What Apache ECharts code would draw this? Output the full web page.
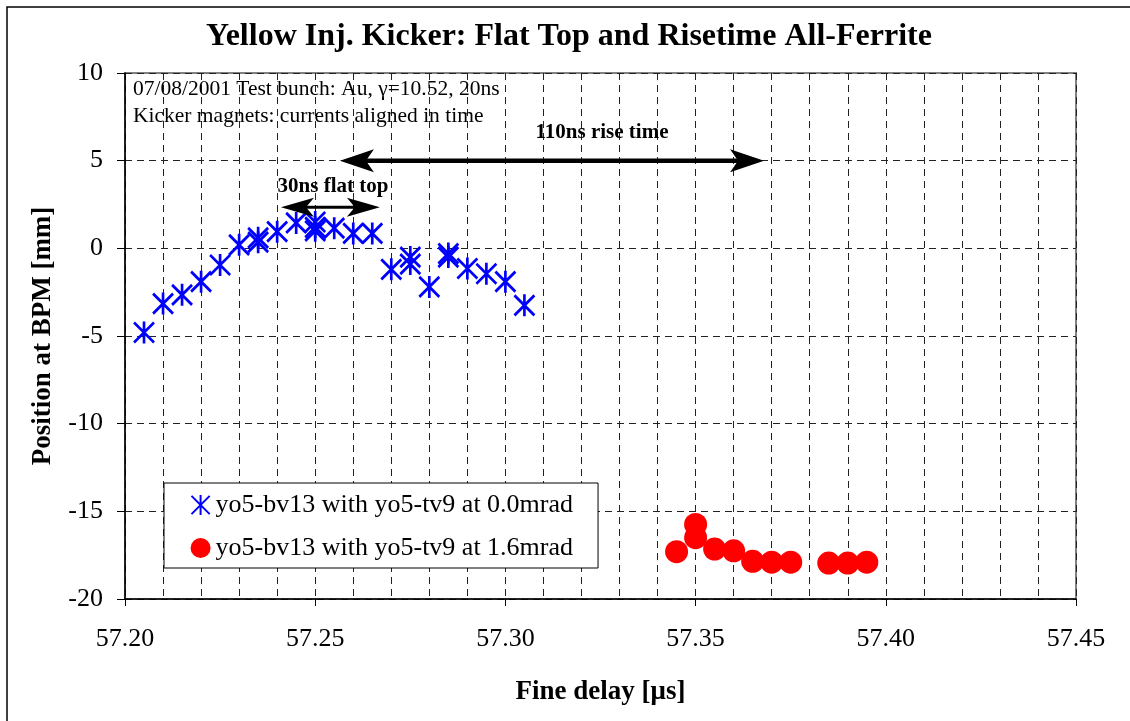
<!DOCTYPE html>
<html>
<head>
<meta charset="utf-8">
<title>Yellow Inj. Kicker: Flat Top and Risetime All-Ferrite</title>
<script src="https://cdn.jsdelivr.net/npm/echarts@6/dist/echarts.min.js"></script>
<style>
  html, body { margin: 0; padding: 0; background: #fff; overflow: hidden; }
  #chart { width: 1130px; height: 721px; }
</style>
</head>
<body>
<div id="chart"></div>
<script>
// Fine delay [μs] and beam position [mm] for each kicker setting
const seriesNames = [
  'yo5-bv13 with yo5-tv9 at 0.0mrad',
  'yo5-bv13 with yo5-tv9 at 1.6mrad'
];
const delay00 = [
  57.205, 57.210, 57.215, 57.220, 57.225, 57.230, 57.235, 57.235, 57.240,
  57.245, 57.250, 57.250, 57.250, 57.255, 57.260, 57.265, 57.270, 57.275,
  57.275, 57.280, 57.285, 57.285, 57.290, 57.295, 57.300, 57.305
];
const pos00 = [
  -4.8, -3.15, -2.65, -1.9, -0.95, 0.2, 0.35, 0.6, 0.95,
  1.45, 1.5, 1.2, 1.0, 1.15, 0.85, 0.85, -1.2, -0.5,
  -0.9, -2.2, -0.3, -0.5, -1.15, -1.45, -1.9, -3.25
];
const delay16 = [
  57.345, 57.350, 57.350, 57.355, 57.360, 57.365, 57.370, 57.375,
  57.385, 57.390, 57.395
];
const pos16 = [
  -17.3, -15.75, -16.5, -17.15, -17.25, -17.85, -17.9, -17.9,
  -17.95, -17.95, -17.9
];

// Double-headed arrows: [start delay, end delay, position]
const riseArrow = [57.2565, 57.368, 5];
const flatArrow = [57.241, 57.267, 2.35];

// Axis ranges
const xRange = [57.20, 57.45];
const xStep = 0.05;
const yRange = [-20, 10];
const yStep = 5;

const SERIF = "'Liberation Serif', 'Times New Roman', 'DejaVu Serif', serif";

const zip = (xs, ys) => xs.map((x, i) => [x, ys[i]]);

// Excel-style asterisk marker: a vertical stroke crossed by an X
const asterisk = 'path://M0,-11L0,11M-10,-10L10,10M-10,10L10,-10';

const chart = echarts.init(document.getElementById('chart'), null, { renderer: 'canvas' });

chart.setOption({
  backgroundColor: '#fff',
  animation: false,
  grid: {
    left: 125, top: 73, width: 951, height: 526,
    show: true, backgroundColor: '#fff', borderColor: '#808080', borderWidth: 2
  },
  legend: {
    data: seriesNames,
    orient: 'vertical',
    left: 164, top: 483,
    padding: [9, 25, 7, 25],
    itemGap: 17,
    itemWidth: 20, itemHeight: 20,
    itemTextGap: 6,
    backgroundColor: '#fff',
    borderColor: '#000', borderWidth: 1, borderRadius: 0,
    textStyle: { fontFamily: SERIF, fontSize: 26, color: '#000' }
  },
  xAxis: {
    type: 'value',
    min: xRange[0], max: xRange[1], interval: xStep,
    name: 'Fine delay [μs]',
    nameLocation: 'middle', nameGap: 80,
    nameTextStyle: { fontFamily: SERIF, fontSize: 27, fontWeight: 'bold', color: '#000' },
    axisLine: { show: true, onZero: false, lineStyle: { color: '#000', width: 1.5 } },
    axisTick: { show: true, inside: false, length: 7, lineStyle: { color: '#000' } },
    axisLabel: {
      margin: 27, fontFamily: SERIF, fontSize: 26, color: '#000',
      formatter: v => v.toFixed(2)
    },
    splitLine: { show: true, lineStyle: { color: '#222', width: 1, type: [7, 5] } },
    minorTick: { show: false, splitNumber: 5 },
    minorSplitLine: { show: true, lineStyle: { color: '#222', width: 1, type: [7, 5] } }
  },
  yAxis: {
    type: 'value',
    min: yRange[0], max: yRange[1], interval: yStep,
    name: 'Position at BPM [mm]',
    nameLocation: 'middle', nameGap: 68, nameRotate: 90,
    nameTextStyle: { fontFamily: SERIF, fontSize: 27, fontWeight: 'bold', color: '#000' },
    axisLine: { show: true, onZero: false, lineStyle: { color: '#000', width: 1.5 } },
    axisTick: { show: true, inside: false, length: 8, lineStyle: { color: '#000' } },
    axisLabel: { margin: 22, fontFamily: SERIF, fontSize: 26, color: '#000' },
    splitLine: { show: true, lineStyle: { color: '#222', width: 1, type: [7, 5] } }
  },
  graphic: [
    {
      // outer frame of the figure (only its left and top edges fall on the page)
      type: 'polyline', silent: true, z: -10,
      shape: { points: [[7, 760], [7, 7], [1200, 7]] },
      style: { fill: 'none', stroke: '#000', lineWidth: 1.5 }
    },
    {
      type: 'text', silent: true,
      style: {
        x: 569, y: 37, text: 'Yellow Inj. Kicker: Flat Top and Risetime All-Ferrite',
        textAlign: 'center', textVerticalAlign: 'middle',
        font: 'bold 32px ' + SERIF, fill: '#000'
      }
    },
    {
      type: 'text', silent: true, z: 10,
      style: {
        x: 133, y: 89, text: '07/08/2001 Test bunch: Au, γ=10.52, 20ns',
        textAlign: 'left', textVerticalAlign: 'middle',
        font: '21.5px ' + SERIF, fill: '#000'
      }
    },
    {
      type: 'text', silent: true, z: 10,
      style: {
        x: 133, y: 116, text: 'Kicker magnets: currents aligned in time',
        textAlign: 'left', textVerticalAlign: 'middle',
        font: '21.5px ' + SERIF, fill: '#000'
      }
    },
    {
      type: 'text', silent: true, z: 10,
      style: {
        x: 602, y: 133, text: '110ns rise time',
        textAlign: 'center', textVerticalAlign: 'middle',
        font: 'bold 21px ' + SERIF, fill: '#000'
      }
    },
    {
      type: 'text', silent: true, z: 10,
      style: {
        x: 333, y: 187, text: '30ns flat top',
        textAlign: 'center', textVerticalAlign: 'middle',
        font: 'bold 21px ' + SERIF, fill: '#000'
      }
    }
  ],
  series: [
    {
      name: seriesNames[0],
      type: 'scatter',
      data: zip(delay00, pos00),
      symbol: asterisk,
      symbolSize: [20, 22],
      itemStyle: { color: 'none', borderColor: '#0000ff', borderWidth: 2.8, opacity: 1 },
      z: 3
    },
    {
      name: seriesNames[1],
      type: 'scatter',
      data: zip(delay16, pos16),
      symbol: 'circle',
      symbolSize: 23,
      itemStyle: { color: '#ff0000', borderWidth: 0, opacity: 1 },
      z: 3
    },
    {
      // double-headed annotation arrows
      type: 'custom',
      silent: true,
      z: 6,
      data: [riseArrow, flatArrow],
      encode: { x: [0, 1], y: 2 },
      renderItem(params, api) {
        const a = api.coord([api.value(0), api.value(2)]);
        const b = api.coord([api.value(1), api.value(2)]);
        const big = params.dataIndex === 0;
        const len = big ? 34 : 33;
        const half = big ? 11.5 : 9.5;
        const notch = big ? 26 : 25;
        const lw = big ? 4.5 : 3;
        const head = (tip, dir) => [
          [tip[0], tip[1]],
          [tip[0] + dir * len, tip[1] - half],
          [tip[0] + dir * notch, tip[1]],
          [tip[0] + dir * len, tip[1] + half]
        ];
        return {
          type: 'group',
          children: [
            {
              type: 'line',
              shape: { x1: a[0] + notch - 2, y1: a[1], x2: b[0] - notch + 2, y2: b[1] },
              style: { stroke: '#000', lineWidth: lw }
            },
            { type: 'polygon', shape: { points: head(a, 1) }, style: { fill: '#000' } },
            { type: 'polygon', shape: { points: head(b, -1) }, style: { fill: '#000' } }
          ]
        };
      }
    }
  ]
});
</script>
</body>
</html>
